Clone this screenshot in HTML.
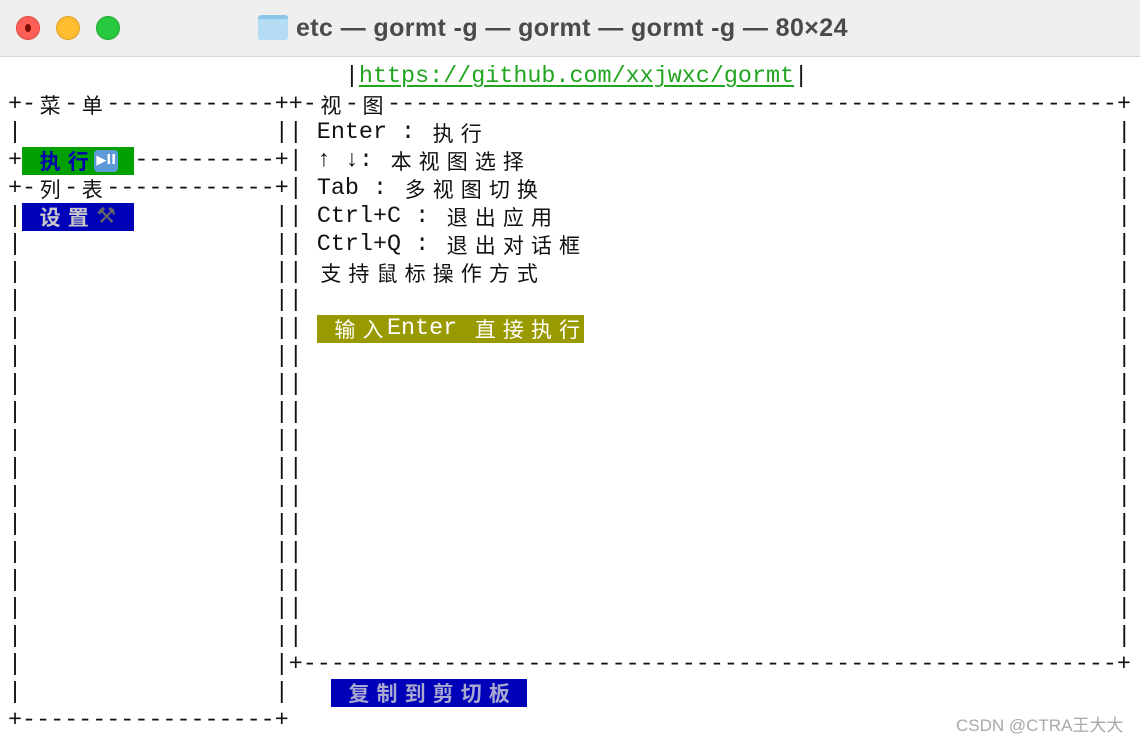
<!DOCTYPE html>
<html><head><meta charset="utf-8"><style>
*{margin:0;padding:0;box-sizing:border-box}
body{width:1140px;height:742px;background:#fff;position:relative;overflow:hidden;font-family:"Liberation Mono",monospace}
.tb{position:absolute;left:0;top:0;width:1140px;height:57px;background:#efefef;border-bottom:1px solid #d6d6d6}
.dot{position:absolute;top:16px;width:24px;height:24px;border-radius:50%}
.title{position:absolute;left:296px;top:14px;font:bold 25px "Liberation Sans",sans-serif;color:#4a4a4a;white-space:nowrap;letter-spacing:0.4px}
.r{position:absolute;left:8px;height:28px;line-height:28px;font-size:23.4px;white-space:pre;color:#111}
.w{display:inline-block;width:28.08px;text-align:center;font-family:"Noto Sans CJK SC",sans-serif;font-size:21px;line-height:28px;vertical-align:top}
.bg{display:inline-block;vertical-align:top;height:28px}
.url{color:#1fa51f;text-decoration:underline;text-decoration-thickness:2px;text-underline-offset:3px}
.wm{position:absolute;left:956px;top:711px;font:17px "Liberation Sans","Noto Sans CJK SC",sans-serif;color:#a8a8a8}
.ic{display:inline-block;width:28.08px;height:28px;vertical-align:top;position:relative}
</style></head><body>
<div class="tb">
<div class="dot" style="left:16px;background:#fe5f57;border:1px solid #e0443e"><div style="position:absolute;left:8px;top:7px;width:6px;height:8px;border-radius:50%;background:#7a0c08"></div></div>
<div class="dot" style="left:56px;background:#febc2e;border:1px solid #dea123"></div>
<div class="dot" style="left:96px;background:#28c840;border:1px solid #1aab29"></div>
<div style="position:absolute;left:258px;top:15px;width:30px;height:25px;background:#b5dcf5;border-radius:3px;border-top:4px solid #8cc4ea"></div>
<div class="title">etc — gormt -g — gormt — gormt -g — 80×24</div>
</div>

<div class="r" style="top:63px">                        |<span class="url">https://github.com/xxjwxc/gormt</span>|</div>
<div class="r" style="top:91px">+-<span class="w">菜</span>-<span class="w">单</span>------------++-<span class="w">视</span>-<span class="w">图</span>----------------------------------------------------+</div>
<div class="r" style="top:119px">|                  || Enter : <span class="w">执</span><span class="w">行</span></div>
<div class="r" style="top:147px">+<span class="bg" style="background:#00a000;color:#0000b0;font-weight:bold"> <span class="w" style="font-weight:bold">执</span><span class="w" style="font-weight:bold">行</span><span class="ic"><span style="position:absolute;left:2px;top:3px;width:24px;height:22px;border-radius:4px;background:#5e9ad8;color:#fff;font:bold 13px 'DejaVu Sans',sans-serif;line-height:22px;text-align:center">▶II</span></span> </span>----------+| ↑ ↓: <span class="w">本</span><span class="w">视</span><span class="w">图</span><span class="w">选</span><span class="w">择</span></div>
<div class="r" style="top:175px">+-<span class="w">列</span>-<span class="w">表</span>------------+| Tab : <span class="w">多</span><span class="w">视</span><span class="w">图</span><span class="w">切</span><span class="w">换</span></div>
<div class="r" style="top:203px">|<span class="bg" style="background:#0000b8;color:#c8c8c8"> <span class="w" style="font-weight:bold">设</span><span class="w" style="font-weight:bold">置</span><span class="ic" style="font:22px 'DejaVu Sans',sans-serif;color:#666;text-align:center;line-height:28px">⚒</span> </span>          || Ctrl+C : <span class="w">退</span><span class="w">出</span><span class="w">应</span><span class="w">用</span></div>
<div class="r" style="top:231px">|                  || Ctrl+Q : <span class="w">退</span><span class="w">出</span><span class="w">对</span><span class="w">话</span><span class="w">框</span></div>
<div class="r" style="top:259px">|                  || <span class="w">支</span><span class="w">持</span><span class="w">鼠</span><span class="w">标</span><span class="w">操</span><span class="w">作</span><span class="w">方</span><span class="w">式</span></div>
<div class="r" style="top:287px">|                  ||</div>
<div class="r" style="top:315px">|                  || <span class="bg" style="background:#999900;color:#fff"> <span class="w">输</span><span class="w">入</span>Enter <span class="w">直</span><span class="w">接</span><span class="w">执</span><span class="w">行</span></span></div>
<div class="r" style="top:343px">|                  ||</div>
<div class="r" style="top:371px">|                  ||</div>
<div class="r" style="top:399px">|                  ||</div>
<div class="r" style="top:427px">|                  ||</div>
<div class="r" style="top:455px">|                  ||</div>
<div class="r" style="top:483px">|                  ||</div>
<div class="r" style="top:511px">|                  ||</div>
<div class="r" style="top:539px">|                  ||</div>
<div class="r" style="top:567px">|                  ||</div>
<div class="r" style="top:595px">|                  ||</div>
<div class="r" style="top:623px">|                  ||</div>
<div class="r" style="top:651px">|                  |+----------------------------------------------------------+</div>
<div class="r" style="top:679px">|                  |   <span class="bg" style="background:#0000b8;color:#a8a8d0"> <span class="w" style="font-weight:bold">复</span><span class="w" style="font-weight:bold">制</span><span class="w" style="font-weight:bold">到</span><span class="w" style="font-weight:bold">剪</span><span class="w" style="font-weight:bold">切</span><span class="w" style="font-weight:bold">板</span> </span></div>
<div class="r" style="top:707px">+------------------+</div>

<div class="r" style="top:119px;left:1117.2px;line-height:28px">|
|
|
|
|
|
|
|
|
|
|
|
|
|
|
|
|
|
|</div>
<div class="wm">CSDN @CTRA王大大</div>
</body></html>
